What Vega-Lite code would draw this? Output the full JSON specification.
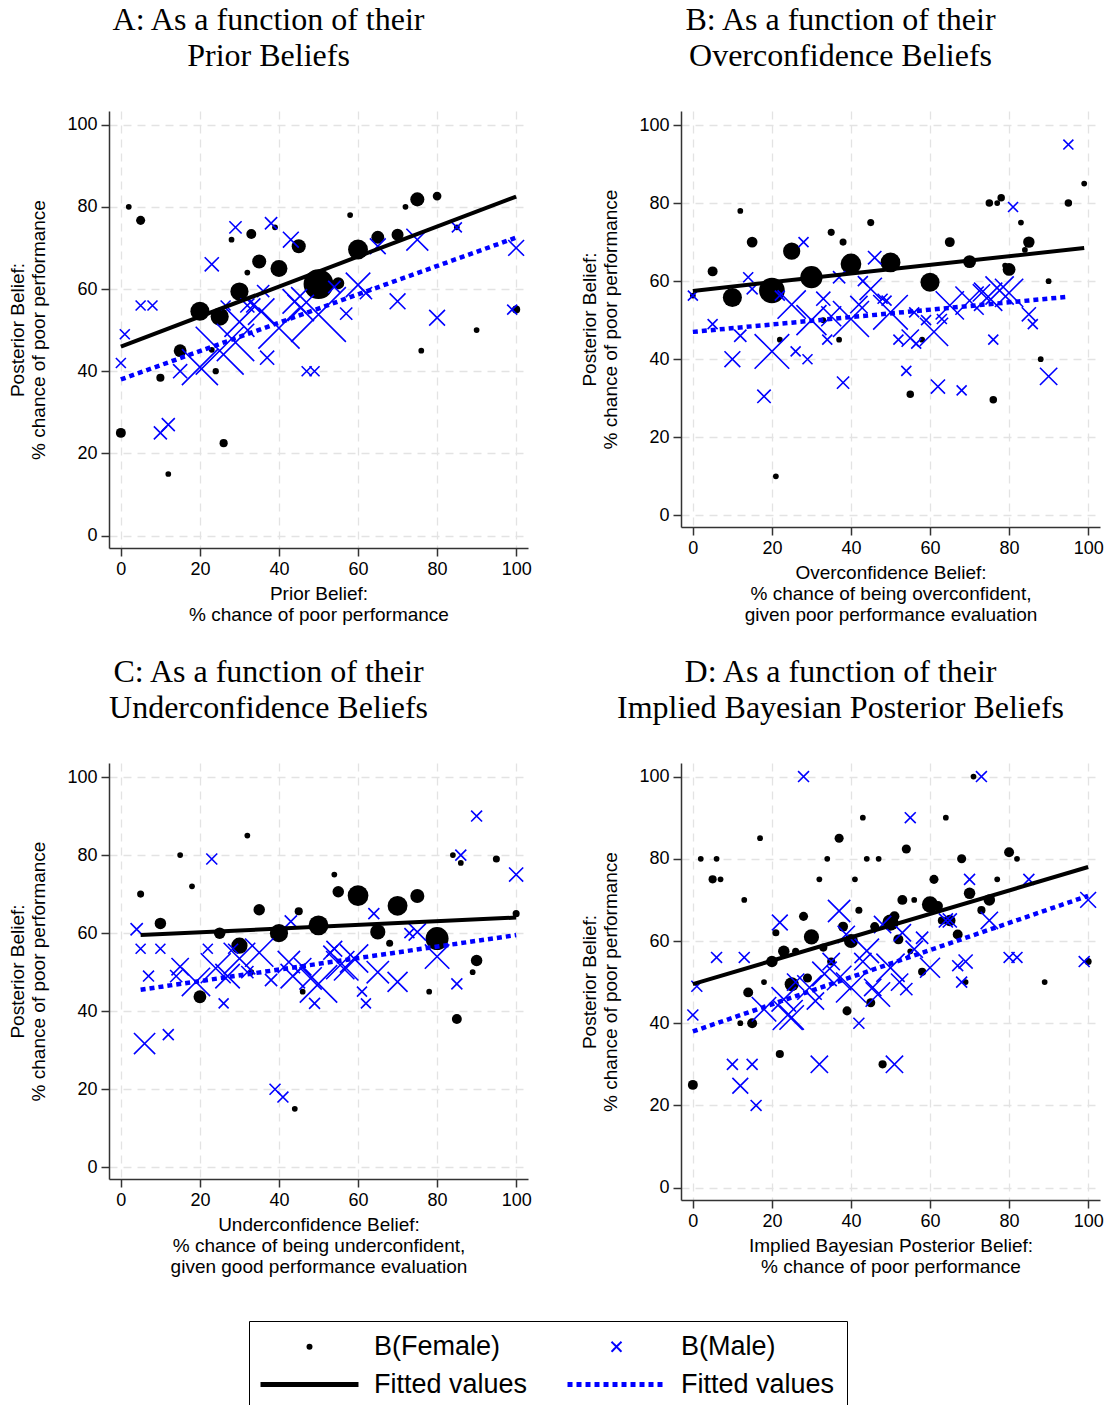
{
"$schema": "https://vega.github.io/schema/vega-lite/v6.json",
"background": "white",
"padding": {"left": 8, "top": 4, "right": 5, "bottom": 5},
"datasets": {
"pts": [
{"p":"A","s":"B(Female)","x":2,"y":80,"w":1},{"p":"A","s":"B(Female)","x":5,"y":76.7,"w":2.5},{"p":"A","s":"B(Female)","x":0,"y":25,"w":3},{"p":"A","s":"B(Female)","x":10,"y":38.4,"w":2},{"p":"A","s":"B(Female)","x":12,"y":15,"w":1},{"p":"A","s":"B(Female)","x":15,"y":45,"w":5},{"p":"A","s":"B(Female)","x":20,"y":54.6,"w":11},{"p":"A","s":"B(Female)","x":23,"y":45.2,"w":1},{"p":"A","s":"B(Female)","x":24,"y":40,"w":1.2},{"p":"A","s":"B(Female)","x":25,"y":53.3,"w":10},{"p":"A","s":"B(Female)","x":26,"y":22.5,"w":2},{"p":"A","s":"B(Female)","x":28,"y":72,"w":1},{"p":"A","s":"B(Female)","x":30,"y":59.4,"w":10},{"p":"A","s":"B(Female)","x":32,"y":64,"w":1},{"p":"A","s":"B(Female)","x":33,"y":73.4,"w":3},{"p":"A","s":"B(Female)","x":35,"y":66.7,"w":6},{"p":"A","s":"B(Female)","x":39,"y":75,"w":1},{"p":"A","s":"B(Female)","x":40,"y":65,"w":8.7},{"p":"A","s":"B(Female)","x":45,"y":70.4,"w":6},{"p":"A","s":"B(Female)","x":50,"y":61.2,"w":27},{"p":"A","s":"B(Female)","x":55,"y":61.4,"w":4.4},{"p":"A","s":"B(Female)","x":58,"y":78,"w":1},{"p":"A","s":"B(Female)","x":60,"y":69.6,"w":12},{"p":"A","s":"B(Female)","x":65,"y":72.6,"w":5},{"p":"A","s":"B(Female)","x":70,"y":73.2,"w":4.4},{"p":"A","s":"B(Female)","x":72,"y":80,"w":1},{"p":"A","s":"B(Female)","x":75,"y":81.8,"w":6},{"p":"A","s":"B(Female)","x":76,"y":45,"w":1},{"p":"A","s":"B(Female)","x":80,"y":82.6,"w":2.3},{"p":"A","s":"B(Female)","x":85,"y":75,"w":1},{"p":"A","s":"B(Female)","x":90,"y":50,"w":1},{"p":"A","s":"B(Female)","x":100,"y":55,"w":2},
{"p":"A","s":"B(Male)","x":1,"y":49,"w":1},{"p":"A","s":"B(Male)","x":0,"y":42,"w":1},{"p":"A","s":"B(Male)","x":5,"y":56,"w":1},{"p":"A","s":"B(Male)","x":8,"y":56,"w":1},{"p":"A","s":"B(Male)","x":10,"y":25,"w":1.7},{"p":"A","s":"B(Male)","x":12,"y":27,"w":1.7},{"p":"A","s":"B(Male)","x":15,"y":40,"w":2},{"p":"A","s":"B(Male)","x":20,"y":41,"w":13},{"p":"A","s":"B(Male)","x":23,"y":66,"w":2},{"p":"A","s":"B(Male)","x":25,"y":45,"w":23},{"p":"A","s":"B(Male)","x":29,"y":47,"w":14},{"p":"A","s":"B(Male)","x":32,"y":56,"w":2},{"p":"A","s":"B(Male)","x":33.5,"y":56,"w":2},{"p":"A","s":"B(Male)","x":35.5,"y":54.5,"w":7},{"p":"A","s":"B(Male)","x":37,"y":43.3,"w":2},{"p":"A","s":"B(Male)","x":40,"y":50.5,"w":17},{"p":"A","s":"B(Male)","x":45.5,"y":55.4,"w":7},{"p":"A","s":"B(Male)","x":50,"y":53.8,"w":30},{"p":"A","s":"B(Male)","x":47,"y":40,"w":1},{"p":"A","s":"B(Male)","x":49,"y":40,"w":1},{"p":"A","s":"B(Male)","x":29,"y":75,"w":1.5},{"p":"A","s":"B(Male)","x":38,"y":76,"w":1.5},{"p":"A","s":"B(Male)","x":43,"y":72,"w":2.5},{"p":"A","s":"B(Male)","x":57,"y":54,"w":1.5},{"p":"A","s":"B(Male)","x":60,"y":61,"w":6},{"p":"A","s":"B(Male)","x":62,"y":59,"w":1.5},{"p":"A","s":"B(Male)","x":65,"y":70.4,"w":2.5},{"p":"A","s":"B(Male)","x":70,"y":57,"w":2.5},{"p":"A","s":"B(Male)","x":75,"y":72,"w":4.8},{"p":"A","s":"B(Male)","x":80,"y":53,"w":2.5},{"p":"A","s":"B(Male)","x":85,"y":75,"w":1},{"p":"A","s":"B(Male)","x":99,"y":55,"w":1},{"p":"A","s":"B(Male)","x":100,"y":70,"w":2.5},{"p":"A","s":"B(Male)","x":26.5,"y":56,"w":1},{"p":"A","s":"B(Male)","x":36,"y":59.5,"w":1.5},{"p":"A","s":"B(Male)","x":54,"y":60.5,"w":1.5},{"p":"A","s":"B(Male)","x":30,"y":52,"w":9},{"p":"A","s":"B(Male)","x":44,"y":57,"w":6},
{"p":"B","s":"B(Female)","x":0,"y":56.3,"w":1},{"p":"B","s":"B(Female)","x":5,"y":62.5,"w":3},{"p":"B","s":"B(Female)","x":12,"y":78,"w":1},{"p":"B","s":"B(Female)","x":10,"y":55.8,"w":11},{"p":"B","s":"B(Female)","x":15,"y":70,"w":3.5},{"p":"B","s":"B(Female)","x":20,"y":57.6,"w":20},{"p":"B","s":"B(Female)","x":21,"y":10,"w":1},{"p":"B","s":"B(Female)","x":22,"y":45,"w":1},{"p":"B","s":"B(Female)","x":25,"y":67.7,"w":9},{"p":"B","s":"B(Female)","x":30,"y":61,"w":15},{"p":"B","s":"B(Female)","x":33,"y":50,"w":1},{"p":"B","s":"B(Female)","x":35,"y":72.5,"w":1.5},{"p":"B","s":"B(Female)","x":37,"y":45,"w":1},{"p":"B","s":"B(Female)","x":38,"y":70,"w":1.5},{"p":"B","s":"B(Female)","x":40,"y":64.4,"w":13},{"p":"B","s":"B(Female)","x":45,"y":75,"w":1.5},{"p":"B","s":"B(Female)","x":50,"y":64.8,"w":12},{"p":"B","s":"B(Female)","x":55,"y":31,"w":1.7},{"p":"B","s":"B(Female)","x":58,"y":45,"w":1},{"p":"B","s":"B(Female)","x":60,"y":59.7,"w":11},{"p":"B","s":"B(Female)","x":65,"y":70,"w":3},{"p":"B","s":"B(Female)","x":70,"y":65,"w":5},{"p":"B","s":"B(Female)","x":75,"y":80,"w":1.7},{"p":"B","s":"B(Female)","x":76,"y":29.6,"w":1.7},{"p":"B","s":"B(Female)","x":77,"y":80,"w":1},{"p":"B","s":"B(Female)","x":78,"y":81.4,"w":1.7},{"p":"B","s":"B(Female)","x":80,"y":63,"w":5},{"p":"B","s":"B(Female)","x":79,"y":64,"w":1},{"p":"B","s":"B(Female)","x":83,"y":75,"w":1},{"p":"B","s":"B(Female)","x":84,"y":68,"w":1},{"p":"B","s":"B(Female)","x":85,"y":70,"w":4},{"p":"B","s":"B(Female)","x":88,"y":40,"w":1},{"p":"B","s":"B(Female)","x":90,"y":60,"w":1},{"p":"B","s":"B(Female)","x":95,"y":80,"w":1.7},{"p":"B","s":"B(Female)","x":99,"y":85,"w":1},
{"p":"B","s":"B(Male)","x":0,"y":56.3,"w":1},{"p":"B","s":"B(Male)","x":5,"y":49,"w":1},{"p":"B","s":"B(Male)","x":12,"y":46,"w":1.5},{"p":"B","s":"B(Male)","x":10,"y":40,"w":2.5},{"p":"B","s":"B(Male)","x":14,"y":61,"w":1},{"p":"B","s":"B(Male)","x":15,"y":58,"w":1.2},{"p":"B","s":"B(Male)","x":18,"y":30.5,"w":1.8},{"p":"B","s":"B(Male)","x":20,"y":42,"w":12},{"p":"B","s":"B(Male)","x":22,"y":56.3,"w":1},{"p":"B","s":"B(Male)","x":25,"y":54,"w":8},{"p":"B","s":"B(Male)","x":26,"y":42,"w":1},{"p":"B","s":"B(Male)","x":28,"y":70,"w":1},{"p":"B","s":"B(Male)","x":29,"y":40,"w":1},{"p":"B","s":"B(Male)","x":30,"y":50,"w":9},{"p":"B","s":"B(Male)","x":33,"y":55.5,"w":2},{"p":"B","s":"B(Male)","x":34,"y":45,"w":1},{"p":"B","s":"B(Male)","x":35,"y":51,"w":4},{"p":"B","s":"B(Male)","x":37,"y":61,"w":1.5},{"p":"B","s":"B(Male)","x":38,"y":34,"w":1.5},{"p":"B","s":"B(Male)","x":40,"y":50.3,"w":13},{"p":"B","s":"B(Male)","x":43,"y":60,"w":1},{"p":"B","s":"B(Male)","x":42,"y":54,"w":3},{"p":"B","s":"B(Male)","x":45,"y":58,"w":5},{"p":"B","s":"B(Male)","x":46,"y":66,"w":1.8},{"p":"B","s":"B(Male)","x":48,"y":55.5,"w":1},{"p":"B","s":"B(Male)","x":49,"y":55,"w":1},{"p":"B","s":"B(Male)","x":50,"y":52,"w":12},{"p":"B","s":"B(Male)","x":52,"y":45,"w":1},{"p":"B","s":"B(Male)","x":54,"y":37,"w":1},{"p":"B","s":"B(Male)","x":55,"y":45.4,"w":3},{"p":"B","s":"B(Male)","x":56,"y":52,"w":1},{"p":"B","s":"B(Male)","x":56.5,"y":44,"w":1},{"p":"B","s":"B(Male)","x":59,"y":50,"w":1},{"p":"B","s":"B(Male)","x":61,"y":47,"w":8},{"p":"B","s":"B(Male)","x":62,"y":33,"w":2},{"p":"B","s":"B(Male)","x":63,"y":50.3,"w":1},{"p":"B","s":"B(Male)","x":65,"y":53.8,"w":8},{"p":"B","s":"B(Male)","x":68,"y":32,"w":1},{"p":"B","s":"B(Male)","x":70,"y":55,"w":8},{"p":"B","s":"B(Male)","x":73,"y":57,"w":3},{"p":"B","s":"B(Male)","x":74.7,"y":56,"w":8},{"p":"B","s":"B(Male)","x":76,"y":45,"w":1},{"p":"B","s":"B(Male)","x":77.6,"y":57.6,"w":8},{"p":"B","s":"B(Male)","x":80,"y":57,"w":8},{"p":"B","s":"B(Male)","x":81,"y":79,"w":1},{"p":"B","s":"B(Male)","x":85,"y":51.5,"w":2},{"p":"B","s":"B(Male)","x":86,"y":49,"w":1},{"p":"B","s":"B(Male)","x":90,"y":35.6,"w":3},{"p":"B","s":"B(Male)","x":95,"y":95,"w":1},
{"p":"C","s":"B(Female)","x":5,"y":70,"w":1.5},{"p":"C","s":"B(Female)","x":10,"y":62.5,"w":4},{"p":"C","s":"B(Female)","x":15,"y":80,"w":1},{"p":"C","s":"B(Female)","x":18,"y":72,"w":1},{"p":"C","s":"B(Female)","x":20,"y":43.7,"w":5},{"p":"C","s":"B(Female)","x":25,"y":60,"w":4},{"p":"C","s":"B(Female)","x":30,"y":56.8,"w":8},{"p":"C","s":"B(Female)","x":32,"y":85,"w":1},{"p":"C","s":"B(Female)","x":33,"y":50,"w":1},{"p":"C","s":"B(Female)","x":35,"y":66,"w":4},{"p":"C","s":"B(Female)","x":40,"y":60,"w":10},{"p":"C","s":"B(Female)","x":44,"y":15,"w":1},{"p":"C","s":"B(Female)","x":45,"y":65.6,"w":2},{"p":"C","s":"B(Female)","x":46,"y":45,"w":1},{"p":"C","s":"B(Female)","x":50,"y":62,"w":12},{"p":"C","s":"B(Female)","x":54,"y":75,"w":1},{"p":"C","s":"B(Female)","x":55,"y":70.6,"w":4},{"p":"C","s":"B(Female)","x":60,"y":69.6,"w":13},{"p":"C","s":"B(Female)","x":65,"y":60.3,"w":7},{"p":"C","s":"B(Female)","x":68,"y":57.4,"w":1.5},{"p":"C","s":"B(Female)","x":70,"y":67,"w":12},{"p":"C","s":"B(Female)","x":75,"y":69.5,"w":6},{"p":"C","s":"B(Female)","x":78,"y":45,"w":1},{"p":"C","s":"B(Female)","x":80,"y":58.6,"w":16},{"p":"C","s":"B(Female)","x":84,"y":80,"w":1},{"p":"C","s":"B(Female)","x":85,"y":38,"w":3},{"p":"C","s":"B(Female)","x":86,"y":78,"w":1},{"p":"C","s":"B(Female)","x":89,"y":50,"w":1},{"p":"C","s":"B(Female)","x":90,"y":53,"w":4},{"p":"C","s":"B(Female)","x":95,"y":79,"w":1.5},{"p":"C","s":"B(Female)","x":100,"y":65,"w":1.5},
{"p":"C","s":"B(Male)","x":4,"y":61,"w":1.5},{"p":"C","s":"B(Male)","x":5,"y":56,"w":1},{"p":"C","s":"B(Male)","x":6,"y":31.7,"w":4.5},{"p":"C","s":"B(Male)","x":7,"y":49,"w":1.2},{"p":"C","s":"B(Male)","x":10,"y":56,"w":1},{"p":"C","s":"B(Male)","x":12,"y":34,"w":1.2},{"p":"C","s":"B(Male)","x":14,"y":49,"w":1.5},{"p":"C","s":"B(Male)","x":15,"y":51.4,"w":3},{"p":"C","s":"B(Male)","x":19,"y":47.5,"w":8},{"p":"C","s":"B(Male)","x":22,"y":56,"w":1},{"p":"C","s":"B(Male)","x":23,"y":79,"w":1.2},{"p":"C","s":"B(Male)","x":26,"y":42,"w":1},{"p":"C","s":"B(Male)","x":24,"y":51,"w":9},{"p":"C","s":"B(Male)","x":27,"y":49,"w":6},{"p":"C","s":"B(Male)","x":28.4,"y":56,"w":1},{"p":"C","s":"B(Male)","x":30,"y":53.5,"w":10},{"p":"C","s":"B(Male)","x":32,"y":50,"w":1.5},{"p":"C","s":"B(Male)","x":35,"y":55,"w":8},{"p":"C","s":"B(Male)","x":38,"y":48,"w":1.5},{"p":"C","s":"B(Male)","x":39,"y":20,"w":1.2},{"p":"C","s":"B(Male)","x":41,"y":18,"w":1.2},{"p":"C","s":"B(Male)","x":43,"y":63,"w":1.5},{"p":"C","s":"B(Male)","x":42.5,"y":52.6,"w":5},{"p":"C","s":"B(Male)","x":43.5,"y":49,"w":6},{"p":"C","s":"B(Male)","x":46,"y":51.4,"w":3},{"p":"C","s":"B(Male)","x":48,"y":48.4,"w":5},{"p":"C","s":"B(Male)","x":49,"y":42,"w":1.2},{"p":"C","s":"B(Male)","x":50,"y":47,"w":14},{"p":"C","s":"B(Male)","x":53,"y":55,"w":2},{"p":"C","s":"B(Male)","x":54,"y":56,"w":2.5},{"p":"C","s":"B(Male)","x":55.5,"y":51.8,"w":8},{"p":"C","s":"B(Male)","x":57,"y":51,"w":6},{"p":"C","s":"B(Male)","x":59,"y":53.5,"w":8},{"p":"C","s":"B(Male)","x":61,"y":45,"w":1},{"p":"C","s":"B(Male)","x":62,"y":42,"w":1},{"p":"C","s":"B(Male)","x":64,"y":65,"w":1.2},{"p":"C","s":"B(Male)","x":65,"y":50,"w":5},{"p":"C","s":"B(Male)","x":70,"y":47.5,"w":4},{"p":"C","s":"B(Male)","x":73,"y":60,"w":1},{"p":"C","s":"B(Male)","x":75,"y":60.3,"w":3},{"p":"C","s":"B(Male)","x":80,"y":54,"w":6},{"p":"C","s":"B(Male)","x":85,"y":47,"w":1.2},{"p":"C","s":"B(Male)","x":86,"y":80,"w":1.2},{"p":"C","s":"B(Male)","x":90,"y":90,"w":1.2},{"p":"C","s":"B(Male)","x":100,"y":75,"w":2},
{"p":"D","s":"B(Female)","x":0,"y":25,"w":3},{"p":"D","s":"B(Female)","x":2,"y":80,"w":1},{"p":"D","s":"B(Female)","x":6,"y":80,"w":1},{"p":"D","s":"B(Female)","x":5,"y":75,"w":2},{"p":"D","s":"B(Female)","x":7,"y":75,"w":1},{"p":"D","s":"B(Female)","x":13,"y":70,"w":1},{"p":"D","s":"B(Female)","x":12,"y":40,"w":1},{"p":"D","s":"B(Female)","x":14,"y":47.5,"w":3},{"p":"D","s":"B(Female)","x":15,"y":40,"w":3},{"p":"D","s":"B(Female)","x":17,"y":85,"w":1},{"p":"D","s":"B(Female)","x":18,"y":50,"w":1},{"p":"D","s":"B(Female)","x":20,"y":55,"w":4},{"p":"D","s":"B(Female)","x":21,"y":62,"w":1.5},{"p":"D","s":"B(Female)","x":22,"y":32.5,"w":2},{"p":"D","s":"B(Female)","x":23,"y":57.5,"w":4},{"p":"D","s":"B(Female)","x":25,"y":49.5,"w":6},{"p":"D","s":"B(Female)","x":26,"y":57.5,"w":1.5},{"p":"D","s":"B(Female)","x":28,"y":66,"w":2.5},{"p":"D","s":"B(Female)","x":29,"y":51,"w":2.5},{"p":"D","s":"B(Female)","x":30,"y":61,"w":7},{"p":"D","s":"B(Female)","x":32,"y":75,"w":1},{"p":"D","s":"B(Female)","x":33,"y":58.4,"w":2},{"p":"D","s":"B(Female)","x":34,"y":80,"w":1},{"p":"D","s":"B(Female)","x":35,"y":55,"w":2},{"p":"D","s":"B(Female)","x":37,"y":85,"w":2.5},{"p":"D","s":"B(Female)","x":38,"y":63.5,"w":3},{"p":"D","s":"B(Female)","x":39,"y":43,"w":2.5},{"p":"D","s":"B(Female)","x":40,"y":60,"w":6},{"p":"D","s":"B(Female)","x":41,"y":75,"w":1},{"p":"D","s":"B(Female)","x":42,"y":67.5,"w":1.5},{"p":"D","s":"B(Female)","x":43,"y":90,"w":1},{"p":"D","s":"B(Female)","x":44,"y":80,"w":1},{"p":"D","s":"B(Female)","x":45,"y":45,"w":2.5},{"p":"D","s":"B(Female)","x":46,"y":63.5,"w":2.5},{"p":"D","s":"B(Female)","x":47,"y":80,"w":1},{"p":"D","s":"B(Female)","x":48,"y":30,"w":2},{"p":"D","s":"B(Female)","x":50,"y":64.5,"w":8},{"p":"D","s":"B(Female)","x":51,"y":66,"w":3},{"p":"D","s":"B(Female)","x":52,"y":60.4,"w":3},{"p":"D","s":"B(Female)","x":53,"y":70,"w":3},{"p":"D","s":"B(Female)","x":54,"y":82.4,"w":2.5},{"p":"D","s":"B(Female)","x":55,"y":57.5,"w":1},{"p":"D","s":"B(Female)","x":56,"y":70,"w":1},{"p":"D","s":"B(Female)","x":58,"y":52.5,"w":2},{"p":"D","s":"B(Female)","x":60,"y":68.9,"w":8},{"p":"D","s":"B(Female)","x":61,"y":75,"w":2.5},{"p":"D","s":"B(Female)","x":62,"y":68.5,"w":3},{"p":"D","s":"B(Female)","x":63,"y":65,"w":2},{"p":"D","s":"B(Female)","x":64,"y":90,"w":1},{"p":"D","s":"B(Female)","x":65,"y":65,"w":4},{"p":"D","s":"B(Female)","x":67,"y":61.6,"w":3},{"p":"D","s":"B(Female)","x":68,"y":80,"w":2.5},{"p":"D","s":"B(Female)","x":69,"y":50,"w":1},{"p":"D","s":"B(Female)","x":70,"y":71.6,"w":4},{"p":"D","s":"B(Female)","x":71,"y":100,"w":1},{"p":"D","s":"B(Female)","x":73,"y":67.5,"w":2},{"p":"D","s":"B(Female)","x":75,"y":70,"w":4},{"p":"D","s":"B(Female)","x":77,"y":75,"w":1},{"p":"D","s":"B(Female)","x":80,"y":81.6,"w":3},{"p":"D","s":"B(Female)","x":82,"y":80,"w":1},{"p":"D","s":"B(Female)","x":89,"y":50,"w":1},{"p":"D","s":"B(Female)","x":100,"y":55,"w":1.5},
{"p":"D","s":"B(Male)","x":0,"y":42,"w":1.2},{"p":"D","s":"B(Male)","x":1,"y":49,"w":1.2},{"p":"D","s":"B(Male)","x":6,"y":56,"w":1.2},{"p":"D","s":"B(Male)","x":10,"y":30,"w":1.2},{"p":"D","s":"B(Male)","x":12,"y":24.8,"w":2.5},{"p":"D","s":"B(Male)","x":13,"y":56,"w":1.2},{"p":"D","s":"B(Male)","x":15,"y":30,"w":1.2},{"p":"D","s":"B(Male)","x":16,"y":20,"w":1.2},{"p":"D","s":"B(Male)","x":18,"y":43.4,"w":6},{"p":"D","s":"B(Male)","x":22,"y":64.5,"w":2.5},{"p":"D","s":"B(Male)","x":23,"y":45.8,"w":6},{"p":"D","s":"B(Male)","x":24,"y":42,"w":9},{"p":"D","s":"B(Male)","x":25,"y":41.4,"w":6},{"p":"D","s":"B(Male)","x":26,"y":50,"w":3},{"p":"D","s":"B(Male)","x":28,"y":100,"w":1.2},{"p":"D","s":"B(Male)","x":29.5,"y":48.7,"w":6},{"p":"D","s":"B(Male)","x":31,"y":45.4,"w":3},{"p":"D","s":"B(Male)","x":32,"y":30,"w":3},{"p":"D","s":"B(Male)","x":33.3,"y":52,"w":6},{"p":"D","s":"B(Male)","x":35,"y":55,"w":3},{"p":"D","s":"B(Male)","x":37,"y":51,"w":6},{"p":"D","s":"B(Male)","x":37,"y":67.3,"w":5},{"p":"D","s":"B(Male)","x":38.8,"y":61.6,"w":3},{"p":"D","s":"B(Male)","x":40,"y":48.7,"w":9},{"p":"D","s":"B(Male)","x":42,"y":40,"w":1.2},{"p":"D","s":"B(Male)","x":43,"y":55,"w":3},{"p":"D","s":"B(Male)","x":44,"y":57.6,"w":6},{"p":"D","s":"B(Male)","x":45.5,"y":48.7,"w":3},{"p":"D","s":"B(Male)","x":46.8,"y":47,"w":6},{"p":"D","s":"B(Male)","x":48,"y":64,"w":3},{"p":"D","s":"B(Male)","x":50,"y":53.5,"w":8},{"p":"D","s":"B(Male)","x":51,"y":30,"w":3},{"p":"D","s":"B(Male)","x":52.3,"y":50,"w":3},{"p":"D","s":"B(Male)","x":53,"y":62,"w":3},{"p":"D","s":"B(Male)","x":54,"y":48.3,"w":1.5},{"p":"D","s":"B(Male)","x":55,"y":90,"w":1.2},{"p":"D","s":"B(Male)","x":56,"y":58,"w":3},{"p":"D","s":"B(Male)","x":58,"y":60.8,"w":1.5},{"p":"D","s":"B(Male)","x":60,"y":53.5,"w":4},{"p":"D","s":"B(Male)","x":64,"y":65,"w":2},{"p":"D","s":"B(Male)","x":65,"y":65,"w":2},{"p":"D","s":"B(Male)","x":67,"y":54,"w":1.2},{"p":"D","s":"B(Male)","x":68,"y":50,"w":1.2},{"p":"D","s":"B(Male)","x":69,"y":55,"w":2},{"p":"D","s":"B(Male)","x":70,"y":75,"w":1.2},{"p":"D","s":"B(Male)","x":73,"y":100,"w":1.2},{"p":"D","s":"B(Male)","x":75,"y":65,"w":3},{"p":"D","s":"B(Male)","x":80,"y":56,"w":1.2},{"p":"D","s":"B(Male)","x":82,"y":56,"w":1.2},{"p":"D","s":"B(Male)","x":85,"y":75,"w":1.2},{"p":"D","s":"B(Male)","x":99,"y":55,"w":1.2},{"p":"D","s":"B(Male)","x":100,"y":70,"w":2.5}
],
"fit": [
{"p":"A","s":"Fitted F","x":0,"y":46},{"p":"A","s":"Fitted F","x":100,"y":82.5},
{"p":"A","s":"Fitted M","x":0,"y":38},{"p":"A","s":"Fitted M","x":100,"y":72.5},
{"p":"B","s":"Fitted F","x":0,"y":57.5},{"p":"B","s":"Fitted F","x":99,"y":68.5},
{"p":"B","s":"Fitted M","x":0,"y":47},{"p":"B","s":"Fitted M","x":95,"y":56},
{"p":"C","s":"Fitted F","x":5,"y":59.5},{"p":"C","s":"Fitted F","x":100,"y":64},
{"p":"C","s":"Fitted M","x":5,"y":45.5},{"p":"C","s":"Fitted M","x":100,"y":59.5},
{"p":"D","s":"Fitted F","x":0,"y":49.5},{"p":"D","s":"Fitted F","x":100,"y":78},
{"p":"D","s":"Fitted M","x":0,"y":38},{"p":"D","s":"Fitted M","x":100,"y":71}
]
},
"config": {
"view": {"stroke": null},
"font": "Liberation Sans",
"axis": {"grid": true, "gridDash": [8, 6], "gridColor": "#e3e3e3", "gridWidth": 1.3, "domainColor": "#333333", "domainWidth": 1.5, "tickColor": "#333333", "tickWidth": 1.5, "tickSize": 8, "labelFontSize": 18, "labelColor": "black", "labelFont": "Liberation Sans", "titleFont": "Liberation Sans", "titleFontSize": 19, "titleFontWeight": "normal", "titleColor": "black", "labelPadding": 4},
"axisX": {"titlePadding": 6},
"axisY": {"titlePadding": 18},
"title": {"font": "Liberation Serif", "fontSize": 32, "fontWeight": "normal", "color": "black", "anchor": "middle", "dx": -50, "lineHeight": 36, "offset": 38},
"point": {"opacity": 1}
},
"resolve": {"scale": {"color": "shared", "size": "shared"}, "legend": {"color": "shared"}},
"vconcat": [
{"hconcat": [
{"title": {"text": ["A: As a function of their", "Prior Beliefs"]}, "width": 419, "height": 437,
 "encoding": {
  "x": {"field": "x", "type": "quantitative", "scale": {"domain": [-3, 103], "nice": false, "zero": false}, "axis": {"values": [0,20,40,60,80,100], "title": ["Prior Belief:", "% chance of poor performance"]}},
  "y": {"field": "y", "type": "quantitative", "scale": {"domain": [-3, 103.3], "nice": false, "zero": false}, "axis": {"values": [0,20,40,60,80,100], "title": ["Posterior Belief:", "% chance of poor performance"]}},
  "color": {"field": "s", "type": "nominal", "scale": {"domain": ["B(Female)", "Fitted F", "B(Male)", "Fitted M"], "range": ["black", "black", "#0000ff", "#0000ff"]},
   "legend": {"orient": "none", "legendX": 140, "legendY": 1210, "title": null, "columns": 2, "labelFontSize": 27, "labelFont": "Liberation Sans", "labelColor": "black", "strokeColor": "black", "padding": 12, "columnPadding": 29, "rowPadding": 10, "symbolOffset": 35, "labelOffset": 51,
    "labelExpr": "indexof(datum.label, 'Fitted') == 0 ? 'Fitted values' : datum.label",
    "encode": {"symbols": {"update": {
      "shape": {"signal": "datum.value == 'B(Male)' ? 'M-1.74,-1.74L1.74,1.74M1.74,-1.74L-1.74,1.74' : (datum.value == 'B(Female)' ? 'circle' : 'stroke')"},
      "size": {"signal": "datum.value == 'B(Female)' ? 36 : (datum.value == 'B(Male)' ? 33 : 9600)"},
      "strokeWidth": {"signal": "datum.value == 'B(Female)' ? 0 : (datum.value == 'B(Male)' ? 2 : 5)"},
      "strokeDash": {"signal": "datum.value == 'Fitted M' ? [5, 4] : [1, 0]"},
      "fill": {"signal": "datum.value == 'B(Female)' ? 'black' : 'transparent'"},
      "stroke": {"signal": "(datum.value == 'B(Male)' || datum.value == 'Fitted M') ? '#0000ff' : 'black'"},
      "opacity": {"value": 1}
    }}}}}
 },
 "layer": [
  {"data": {"name": "pts"}, "transform": [{"filter": "datum.p == 'A' && datum.s == 'B(Female)'"}], "mark": {"type": "point", "shape": "circle", "filled": true}, "encoding": {"size": {"field": "w", "type": "quantitative", "scale": {"domain": [0, 30], "range": [0, 990], "zero": true}, "legend": null}}},
  {"data": {"name": "pts"}, "transform": [{"filter": "datum.p == 'A' && datum.s == 'B(Male)'"}], "mark": {"type": "point", "shape": "M-1.74,-1.74L1.74,1.74M1.74,-1.74L-1.74,1.74", "filled": false, "strokeWidth": 1.6}, "encoding": {"size": {"field": "w", "type": "quantitative", "scale": {"domain": [0, 30], "range": [0, 990], "zero": true}, "legend": null}}},
  {"data": {"name": "fit"}, "transform": [{"filter": "datum.p == 'A' && datum.s == 'Fitted F'"}], "mark": {"type": "line", "strokeWidth": 4}},
  {"data": {"name": "fit"}, "transform": [{"filter": "datum.p == 'A' && datum.s == 'Fitted M'"}], "mark": {"type": "line", "strokeWidth": 4.5, "strokeDash": [5, 4]}}
 ]},
{"title": {"text": ["B: As a function of their", "Overconfidence Beliefs"]}, "width": 419, "height": 416,
 "encoding": {
  "x": {"field": "x", "type": "quantitative", "scale": {"domain": [-3, 103], "nice": false, "zero": false}, "axis": {"values": [0,20,40,60,80,100], "title": ["Overconfidence Belief:", "% chance of being overconfident,", "given poor performance evaluation"]}},
  "y": {"field": "y", "type": "quantitative", "scale": {"domain": [-3, 103.6], "nice": false, "zero": false}, "axis": {"values": [0,20,40,60,80,100], "title": ["Posterior Belief:", "% chance of poor performance"]}},
  "color": {"field": "s", "type": "nominal", "scale": {"domain": ["B(Female)", "Fitted F", "B(Male)", "Fitted M"], "range": ["black", "black", "#0000ff", "#0000ff"]}}
 },
 "layer": [
  {"data": {"name": "pts"}, "transform": [{"filter": "datum.p == 'B' && datum.s == 'B(Female)'"}], "mark": {"type": "point", "shape": "circle", "filled": true}, "encoding": {"size": {"field": "w", "type": "quantitative", "scale": {"domain": [0, 30], "range": [0, 990], "zero": true}, "legend": null}}},
  {"data": {"name": "pts"}, "transform": [{"filter": "datum.p == 'B' && datum.s == 'B(Male)'"}], "mark": {"type": "point", "shape": "M-1.74,-1.74L1.74,1.74M1.74,-1.74L-1.74,1.74", "filled": false, "strokeWidth": 1.6}, "encoding": {"size": {"field": "w", "type": "quantitative", "scale": {"domain": [0, 30], "range": [0, 990], "zero": true}, "legend": null}}},
  {"data": {"name": "fit"}, "transform": [{"filter": "datum.p == 'B' && datum.s == 'Fitted F'"}], "mark": {"type": "line", "strokeWidth": 4}},
  {"data": {"name": "fit"}, "transform": [{"filter": "datum.p == 'B' && datum.s == 'Fitted M'"}], "mark": {"type": "line", "strokeWidth": 4.5, "strokeDash": [5, 4]}}
 ]}
], "spacing": 48},
{"hconcat": [
{"title": {"text": ["C: As a function of their", "Underconfidence Beliefs"]}, "width": 419, "height": 416,
 "encoding": {
  "x": {"field": "x", "type": "quantitative", "scale": {"domain": [-3, 103], "nice": false, "zero": false}, "axis": {"values": [0,20,40,60,80,100], "title": ["Underconfidence Belief:", "% chance of being underconfident,", "given good performance evaluation"]}},
  "y": {"field": "y", "type": "quantitative", "scale": {"domain": [-3, 103.6], "nice": false, "zero": false}, "axis": {"values": [0,20,40,60,80,100], "title": ["Posterior Belief:", "% chance of poor performance"]}},
  "color": {"field": "s", "type": "nominal", "scale": {"domain": ["B(Female)", "Fitted F", "B(Male)", "Fitted M"], "range": ["black", "black", "#0000ff", "#0000ff"]}}
 },
 "layer": [
  {"data": {"name": "pts"}, "transform": [{"filter": "datum.p == 'C' && datum.s == 'B(Female)'"}], "mark": {"type": "point", "shape": "circle", "filled": true}, "encoding": {"size": {"field": "w", "type": "quantitative", "scale": {"domain": [0, 30], "range": [0, 990], "zero": true}, "legend": null}}},
  {"data": {"name": "pts"}, "transform": [{"filter": "datum.p == 'C' && datum.s == 'B(Male)'"}], "mark": {"type": "point", "shape": "M-1.74,-1.74L1.74,1.74M1.74,-1.74L-1.74,1.74", "filled": false, "strokeWidth": 1.6}, "encoding": {"size": {"field": "w", "type": "quantitative", "scale": {"domain": [0, 30], "range": [0, 990], "zero": true}, "legend": null}}},
  {"data": {"name": "fit"}, "transform": [{"filter": "datum.p == 'C' && datum.s == 'Fitted F'"}], "mark": {"type": "line", "strokeWidth": 4}},
  {"data": {"name": "fit"}, "transform": [{"filter": "datum.p == 'C' && datum.s == 'Fitted M'"}], "mark": {"type": "line", "strokeWidth": 4.5, "strokeDash": [5, 4]}}
 ]},
{"title": {"text": ["D: As a function of their", "Implied Bayesian Posterior Beliefs"]}, "width": 419, "height": 437,
 "encoding": {
  "x": {"field": "x", "type": "quantitative", "scale": {"domain": [-3, 103], "nice": false, "zero": false}, "axis": {"values": [0,20,40,60,80,100], "title": ["Implied Bayesian Posterior Belief:", "% chance of poor performance"]}},
  "y": {"field": "y", "type": "quantitative", "scale": {"domain": [-3, 103.3], "nice": false, "zero": false}, "axis": {"values": [0,20,40,60,80,100], "title": ["Posterior Belief:", "% chance of poor performance"]}},
  "color": {"field": "s", "type": "nominal", "scale": {"domain": ["B(Female)", "Fitted F", "B(Male)", "Fitted M"], "range": ["black", "black", "#0000ff", "#0000ff"]}}
 },
 "layer": [
  {"data": {"name": "pts"}, "transform": [{"filter": "datum.p == 'D' && datum.s == 'B(Female)'"}], "mark": {"type": "point", "shape": "circle", "filled": true}, "encoding": {"size": {"field": "w", "type": "quantitative", "scale": {"domain": [0, 30], "range": [0, 990], "zero": true}, "legend": null}}},
  {"data": {"name": "pts"}, "transform": [{"filter": "datum.p == 'D' && datum.s == 'B(Male)'"}], "mark": {"type": "point", "shape": "M-1.74,-1.74L1.74,1.74M1.74,-1.74L-1.74,1.74", "filled": false, "strokeWidth": 1.6}, "encoding": {"size": {"field": "w", "type": "quantitative", "scale": {"domain": [0, 30], "range": [0, 990], "zero": true}, "legend": null}}},
  {"data": {"name": "fit"}, "transform": [{"filter": "datum.p == 'D' && datum.s == 'Fitted F'"}], "mark": {"type": "line", "strokeWidth": 4}},
  {"data": {"name": "fit"}, "transform": [{"filter": "datum.p == 'D' && datum.s == 'Fitted M'"}], "mark": {"type": "line", "strokeWidth": 4.5, "strokeDash": [5, 4]}}
 ]}
], "spacing": 48}
],
"spacing": 32
}
